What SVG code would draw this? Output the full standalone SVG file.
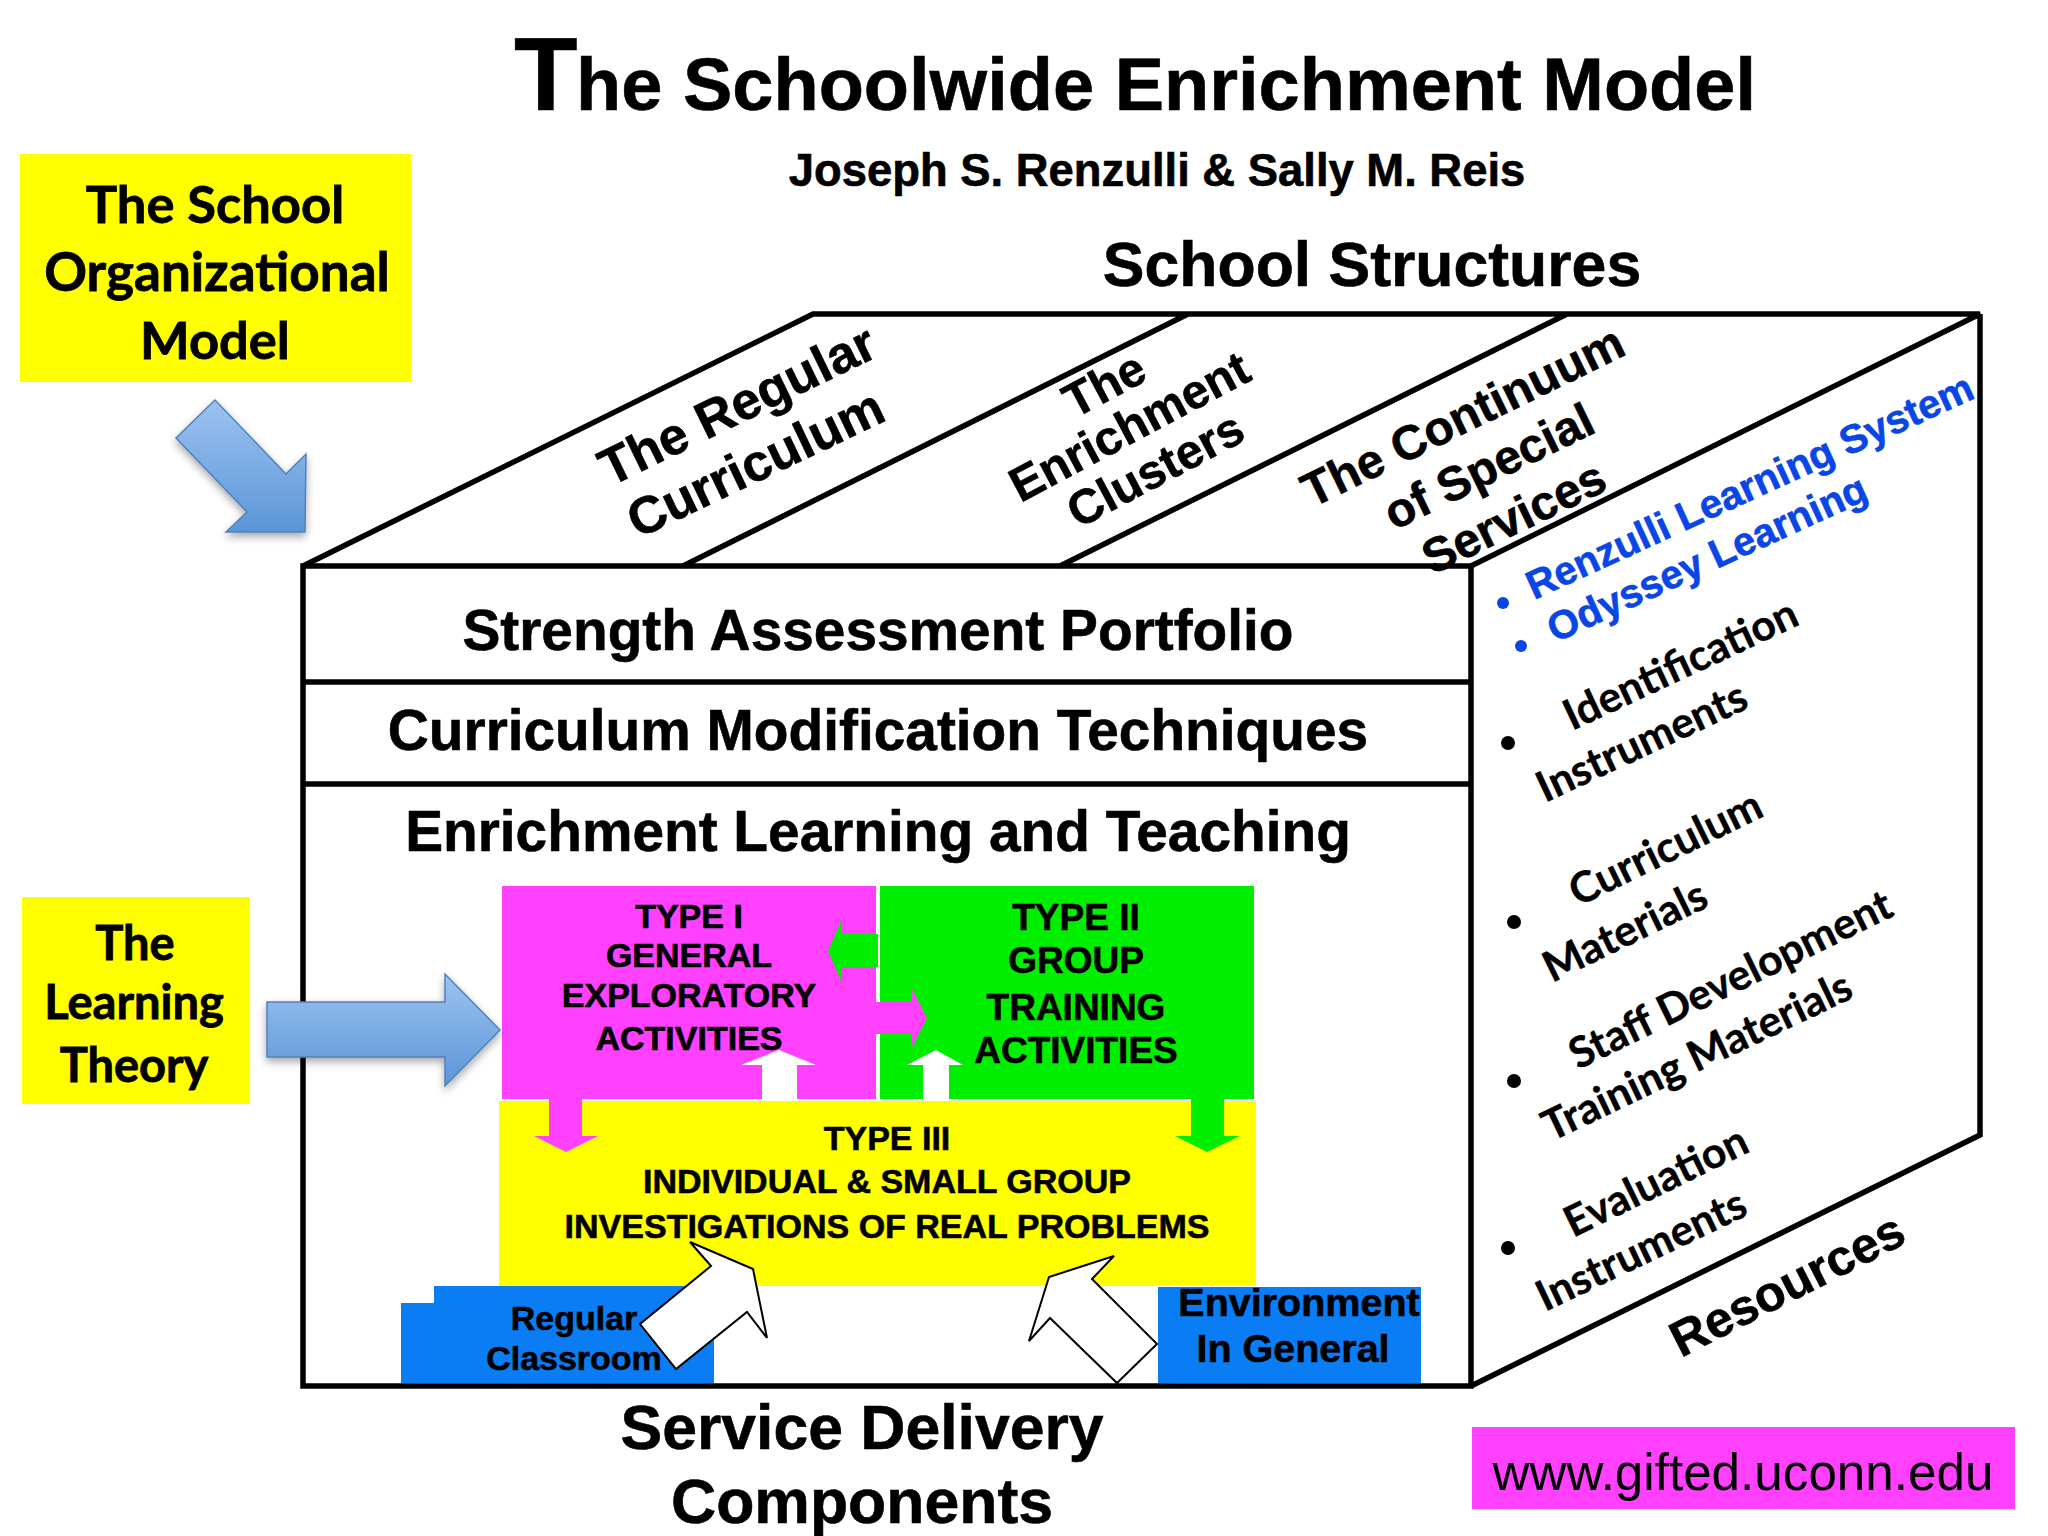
<svg xmlns="http://www.w3.org/2000/svg" width="2048" height="1536" viewBox="0 0 2048 1536">
<style>
.a{font-family:"Liberation Sans",Arial,sans-serif;font-weight:bold;fill:#000;stroke:#000;stroke-width:.6}
.l{font-family:Lato,"Open Sans",sans-serif;font-weight:bold;fill:#000;stroke:#000;stroke-width:.8}
.m{text-anchor:middle}
.h{font-size:62.5px}
.t{font-size:34px}
.u{font-size:37px}
.c{font-size:56.8px}
.r{font-size:52px}
.q{font-size:48px}
.b{font-size:40px;fill:#0a46e6;stroke:#0a46e6}
.k{font-size:42.5px;stroke-width:.4}
.e{fill:none;stroke:#000;stroke-width:5.5}
.w{fill:#fff;stroke:#000;stroke-width:2}
.ba{fill:url(#g);stroke:#4f81bd;stroke-width:1.5;filter:url(#s)}
</style>
<defs>
<linearGradient id="g" x1="0" y1="1" x2="0" y2="0"><stop offset="0" stop-color="#5b96d8"/><stop offset="1" stop-color="#9cc3f0"/></linearGradient>
<filter id="s" x="-20%" y="-20%" width="140%" height="140%"><feDropShadow dx="0" dy="4" stdDeviation="4" flood-color="#000" flood-opacity=".35"/></filter>
</defs>
<rect width="2048" height="1536" fill="#fff"/>
<g id="title">
<text class="a" x="514" y="110" font-size="104">T</text>
<text class="a" x="576" y="110" font-size="74">he Schoolwide Enrichment Model</text>
<text class="a m" x="1157" y="186" font-size="45.4">Joseph S. Renzulli &amp; Sally M. Reis</text>
<text class="a m h" x="1372" y="286">School Structures</text>
</g>
<g id="school-organizational-model">
<rect x="20" y="154" width="391" height="228" fill="#ffff00"/>
<text class="l m" x="215" y="223" font-size="52.5">The School</text>
<text class="l m" x="217" y="291" font-size="53">Organizational</text>
<text class="l m" x="215" y="359" font-size="52.5">Model</text>
</g>
<g id="learning-theory">
<rect x="22" y="897" width="228" height="207" fill="#ffff00"/>
<text class="l m" x="135" y="960" font-size="47">The</text>
<text class="l m" x="134" y="1019" font-size="47">Learning</text>
<text class="l m" x="134" y="1082" font-size="47">Theory</text>
</g>
<g id="block">
<path class="e" d="M303 566H1471V1386H303ZM303 682H1471M303 784H1471"/>
<path class="e" d="M303 566L813 314H1980L1471 566M683 566L1188 314M1060 566L1567 314M1980 314V1135L1471 1386"/>
</g>
<g id="school-structures">
<text class="a r" transform="translate(610 487) rotate(-26)">The Regular</text>
<text class="a r" font-size="51" transform="translate(638 539) rotate(-25.5)">Curriculum</text>
<text class="a q m" transform="translate(1112 399) rotate(-28)">The</text>
<text class="a q m" transform="translate(1137 441) rotate(-28)">Enrichment</text>
<text class="a q m" transform="translate(1163 484) rotate(-28)">Clusters</text>
<text class="a q m" transform="translate(1470 431) rotate(-26)">The Continuum</text>
<text class="a q m" transform="translate(1496 481) rotate(-26)">of Special</text>
<text class="a q m" transform="translate(1521 532) rotate(-26)">Services</text>
</g>
<g id="resources">
<circle cx="1503" cy="603" r="6" fill="#0a46e6"/><circle cx="1521" cy="646" r="6" fill="#0a46e6"/>
<circle cx="1508" cy="743" r="7"/><circle cx="1514" cy="922" r="7"/><circle cx="1514" cy="1081" r="7"/><circle cx="1508" cy="1248" r="7"/>
<text class="a b" transform="translate(1534 600) rotate(-24.6)">Renzulli Learning System</text>
<text class="a b" transform="translate(1555 643) rotate(-24.6)">Odyssey Learning</text>
<text class="l k" transform="translate(1572 731) rotate(-25)">Identification</text>
<text class="l k" transform="translate(1545 803) rotate(-25)">Instruments</text>
<text class="l k" transform="translate(1578 907) rotate(-26)">Curriculum</text>
<text class="l k" transform="translate(1552 983) rotate(-26)">Materials</text>
<text class="l k" transform="translate(1578 1070) rotate(-26)">Staff Development</text>
<text class="l k" transform="translate(1551 1142) rotate(-25.5)">Training Materials</text>
<text class="l k" transform="translate(1573 1238) rotate(-26)">Evaluation</text>
<text class="l k" transform="translate(1545 1312) rotate(-25.5)">Instruments</text>
<text class="a" transform="translate(1681 1358) rotate(-27)" font-size="50">Resources</text>
</g>
<g id="portfolio"><text class="a m c" x="878" y="650">Strength Assessment Portfolio</text></g>
<g id="curriculum-modification"><text class="a m c" x="878" y="750">Curriculum Modification Techniques</text></g>
<g id="enrichment-heading"><text class="a m c" x="878" y="851">Enrichment Learning and Teaching</text></g>
<g id="type-1"><rect x="502" y="886" width="374" height="213" fill="#ff40ff"/></g>
<g id="type-2"><rect x="880" y="886" width="374" height="213" fill="#00ee00"/></g>
<g id="type-3"><rect x="499" y="1101" width="757" height="185" fill="#ffff00"/></g>
<g id="regular-classroom"><path d="M401 1383V1303H434V1286H714V1383Z" fill="#0a7df5"/></g>
<g id="environment"><rect x="1158" y="1287" width="263" height="96" fill="#0a7df5"/></g>
<g id="connectors">
<path class="ba" d="M215 400L176 438L247 512L226 532H305L306 454L286 474Z"/>
<path class="ba" d="M267 1002H445V974L500 1030L445 1086V1057H267Z"/>
<path fill="#00ee00" d="M878 934H842V919L828 951L842 983V967H878Z"/>
<path fill="#ff40ff" d="M876 1002H911V987L927 1018L911 1049V1034H876Z"/>
<path fill="#fff" d="M762 1099V1065H741L779 1050L816 1065H797V1099Z"/>
<path fill="#fff" d="M923 1099V1065H907L936 1050L963 1065H949V1099Z"/>
<path fill="#ff40ff" d="M549 1099V1136H534L566 1152L598 1136H582V1099Z"/>
<path fill="#00ee00" d="M1191 1099V1136H1175L1207 1152L1240 1136H1224V1099Z"/>
<path class="w" d="M690 1242L753 1269L767 1338L747 1312L676 1369L640 1324L711 1266Z"/>
<path class="w" d="M1114 1256L1092 1279L1157 1344L1117 1383L1050 1318L1029 1341L1049 1277Z"/>
</g>
<g id="labels">
<text class="a t m" x="689" y="928">TYPE I</text>
<text class="a t m" x="689" y="967">GENERAL</text>
<text class="a t m" x="689" y="1007">EXPLORATORY</text>
<text class="a t m" x="689" y="1050">ACTIVITIES</text>
<text class="a u m" x="1076" y="930">TYPE II</text>
<text class="a u m" x="1076" y="973">GROUP</text>
<text class="a u m" x="1076" y="1020">TRAINING</text>
<text class="a u m" x="1076" y="1063">ACTIVITIES</text>
<text class="a t m" x="887" y="1150">TYPE III</text>
<text class="a t m" x="887" y="1193">INDIVIDUAL &amp; SMALL GROUP</text>
<text class="a t m" x="887" y="1238">INVESTIGATIONS OF REAL PROBLEMS</text>
<text class="a m" x="574" y="1330" font-size="34">Regular</text>
<text class="a m" x="574" y="1370" font-size="34">Classroom</text>
<text class="a m" x="1299" y="1316" font-size="39.5">Environment</text>
<text class="a m" x="1293" y="1362" font-size="39.5">In General</text>
</g>
<g id="service-delivery">
<text class="a m h" x="862" y="1449">Service Delivery</text>
<text class="a m h" x="862" y="1523">Components</text>
</g>
<g id="url">
<rect x="1472" y="1427" width="543" height="82" fill="#ff40ff"/>
<text x="1743" y="1490" font-size="51.2" text-anchor="middle" font-family="Liberation Sans,Arial,sans-serif" fill="#000">www.gifted.uconn.edu</text>
</g>
</svg>
